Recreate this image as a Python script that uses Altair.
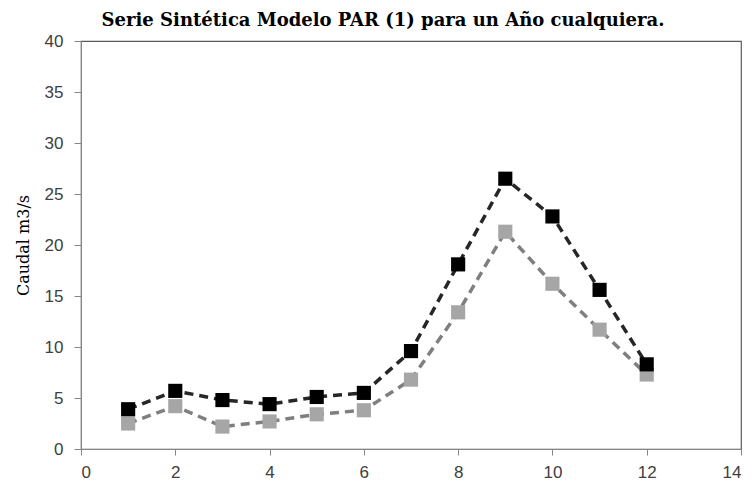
import altair as alt
import pandas as pd

meses = [1, 2, 3, 4, 5, 6, 7, 8, 9, 10, 11, 12]
serie_negra = [3.9, 5.7, 4.8, 4.4, 5.1, 5.5, 9.6, 18.1, 26.5, 22.8, 15.6, 8.3]
serie_gris = [2.5, 4.2, 2.2, 2.7, 3.4, 3.8, 6.8, 13.4, 21.3, 16.2, 11.7, 7.3]

df_n = pd.DataFrame({"x": meses, "y": serie_negra})
df_g = pd.DataFrame({"x": meses, "y": serie_gris})

xs = alt.Scale(domain=[0, 14], nice=False)
ys = alt.Scale(domain=[0, 40], nice=False)
xax = alt.Axis(values=[0, 2, 4, 6, 8, 10, 12, 14], title=None, grid=False,
               labelFont="Liberation Sans", labelFontSize=17, labelColor="#404040",
               tickColor="#868686", domainColor="#868686", tickSize=6, labelPadding=9)
yax = alt.Axis(values=[0, 5, 10, 15, 20, 25, 30, 35, 40], title="Caudal m3/s", grid=False,
               labelFont="Liberation Sans", labelFontSize=17, labelColor="#404040",
               tickColor="#868686", domainColor="#868686", tickSize=7, labelPadding=11,
               titleFont="DejaVu Serif", titleFontSize=16, titleFontWeight="normal",
               titleColor="#000000", titlePadding=13)

def capa(df, line_color, pt_color):
    base = alt.Chart(df).encode(x=alt.X("x:Q", scale=xs, axis=xax), y=alt.Y("y:Q", scale=ys, axis=yax))
    ln = base.mark_line(color=line_color, strokeWidth=3.5, strokeDash=[9, 6])
    pt = base.mark_point(shape="square", filled=True, size=200, color=pt_color, opacity=1)
    return ln + pt

chart = alt.layer(
    capa(df_g, "#7f7f7f", "#a6a6a6"),
    capa(df_n, "#262626", "#000000"),
).properties(
    width=660, height=408,
    title=alt.TitleParams("Serie Sintética Modelo PAR (1) para un Año cualquiera.",
                          font="DejaVu Serif", fontSize=18, fontWeight="bold",
                          color="#000000", anchor="middle", offset=2, dx=-28),
    autosize=alt.AutoSizeParams(type="none"),
    padding={"left": 73, "top": 33, "right": 5, "bottom": 37},
).configure_view(stroke="#595959", strokeWidth=1.2)

chart.save("out.html", embed_options={"renderer": "svg", "actions": False})
